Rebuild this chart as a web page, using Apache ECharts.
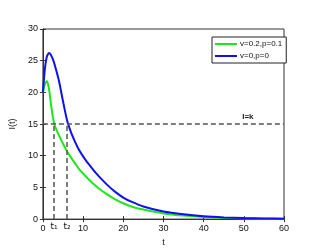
<!DOCTYPE html>
<html><head><meta charset="utf-8">
<script src="https://cdn.jsdelivr.net/npm/echarts@6/dist/echarts.min.js"></script>
<style>html,body{margin:0;padding:0;background:#fff}#c{width:326px;height:252px}</style>
</head><body><div id="c"></div>
<script>
var blueT = [0,0.5,1,1.5,2,2.5,3,4,5,6,7,8,9,10,11,12,13,14,16,18,20,22,25,30,35,40,45,50,55,60];
var blueV = [20,23.8,25.7,26.2,25.9,25.2,24.2,21.8,18.6,15.6,13.7,12.2,10.9,9.9,9.0,8.2,7.4,6.7,5.4,4.3,3.4,2.75,2.0,1.2,0.75,0.45,0.27,0.16,0.1,0.06];
var greenT = [0,0.5,1,1.5,2,2.5,3,4,5,6,7,8,9,10,12,14,16,18,20,22,25,30,35,40,45,50,55,60];
var greenV = [20,21.3,21.8,20.6,18.2,16.0,14.7,13.2,11.9,10.7,9.7,8.8,7.9,7.2,5.9,4.8,3.9,3.1,2.5,2.0,1.5,0.9,0.55,0.33,0.2,0.12,0.07,0.04];
var seriesNames = ['v=0.2,p=0.1','v=0,p=0'];
var xTicks = [0,10,20,30,40,50,60];
var yTicks = [0,5,10,15,20,25,30];
var thresholdK = 15;
var t1 = 2.75, t2 = 6.0;
var kLabelT = 51;

function pairs(t,v){return t.map(function(x,i){return [x,v[i]];});}
var chart = echarts.init(document.getElementById('c'));
var lab = {color:'#111',fontSize:9,fontFamily:'Liberation Sans, Arial, sans-serif'};
var dashStyle = {type:[5,3],color:'#555',width:1.5};
chart.setOption({
  animation:false,
  grid:{left:37,right:42,top:29,bottom:29,show:true,borderColor:'#333',borderWidth:1,backgroundColor:'transparent'},
  legend:{
    left:212, top:37, orient:'vertical', data:seriesNames,
    icon:'rect', itemWidth:22, itemHeight:2, itemGap:4,
    borderColor:'#222', borderWidth:1, padding:[3,4,3,3],
    backgroundColor:'#fff',
    textStyle:{fontSize:8,color:'#111',fontFamily:'Liberation Sans, Arial, sans-serif',padding:[0,0,0,-2]}
  },
  xAxis:[{
    type:'value',min:0,max:60,interval:10,
    name:'t',nameLocation:'middle',nameGap:15,nameTextStyle:lab,
    axisLine:{lineStyle:{color:'#333'}},
    axisTick:{inside:true,length:3,lineStyle:{color:'#333'}},
    axisLabel:Object.assign({margin:5},lab),
    splitLine:{show:false}
  },{
    type:'value',min:0,max:60,interval:10,position:'top',
    axisLine:{show:true,lineStyle:{color:'#333'}},
    axisTick:{show:true,inside:true,length:3,lineStyle:{color:'#333'}},
    axisLabel:{show:false},splitLine:{show:false}
  }],
  yAxis:[{
    type:'value',min:0,max:30,interval:5,
    name:'I(t)',nameLocation:'middle',nameGap:11,nameRotate:90,nameTextStyle:lab,
    axisLine:{show:true,lineStyle:{color:'#333'}},
    axisTick:{show:true,inside:true,length:3,lineStyle:{color:'#333'}},
    axisLabel:Object.assign({margin:5},lab),
    splitLine:{show:false}
  },{
    type:'value',min:0,max:30,interval:5,position:'right',
    axisLine:{show:true,lineStyle:{color:'#333'}},
    axisTick:{show:true,inside:true,length:3,lineStyle:{color:'#333'}},
    axisLabel:{show:false},splitLine:{show:false}
  }],
  series:[{
    name:seriesNames[0],type:'line',showSymbol:false,smooth:0.2,
    data:pairs(greenT,greenV),
    lineStyle:{color:'#1ee61e',width:2},itemStyle:{color:'#1ee61e'},z:3,
    markLine:{
      silent:true,symbol:'none',lineStyle:dashStyle,
      label:{show:true,position:'start',distance:3,fontSize:9,color:'#111',fontFamily:'DejaVu Sans, sans-serif'},
      data:[
        [{coord:[0,thresholdK],label:{show:false}},{coord:[60,thresholdK]}],
        [{coord:[t1,0],label:{formatter:'t₁'}},{coord:[t1,thresholdK]}],
        [{coord:[t2,0],label:{formatter:'t₂'}},{coord:[t2,thresholdK]}]
      ]
    },
    markPoint:{
      silent:true,symbol:'circle',symbolSize:1,itemStyle:{color:'rgba(0,0,0,0)'},
      label:{show:true,position:'top',distance:3,formatter:'I=k',fontSize:8,fontWeight:'bold',color:'#222',fontFamily:'Liberation Sans, Arial, sans-serif'},
      data:[{coord:[kLabelT,thresholdK]}]
    }
  },{
    name:seriesNames[1],type:'line',showSymbol:false,smooth:0.2,
    data:pairs(blueT,blueV),
    lineStyle:{color:'#1010ee',width:2},itemStyle:{color:'#1010ee'},z:4
  }]
});
</script></body></html>
